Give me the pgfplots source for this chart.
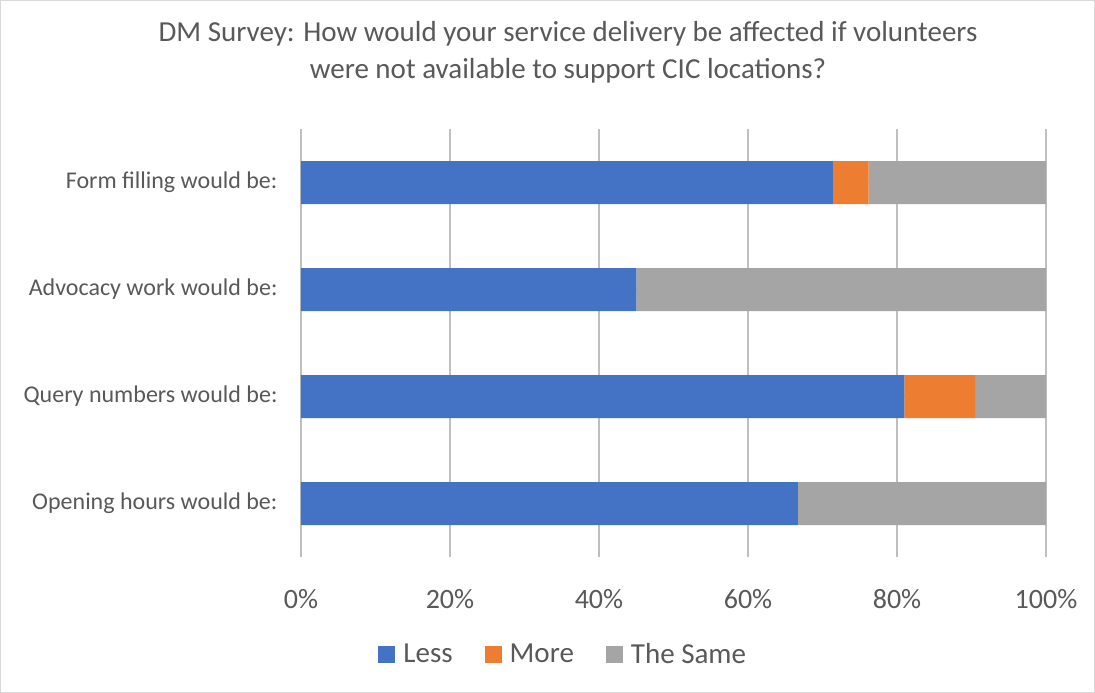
\documentclass[border=0pt]{standalone}
\usepackage{pgfplots}
\pgfplotsset{compat=1.18}
\usepackage{fontspec}
\setmainfont{Carlito}
\definecolor{cLess}{HTML}{4472C4}
\definecolor{cMore}{HTML}{ED7D31}
\definecolor{cSame}{HTML}{A5A5A5}
\definecolor{txt}{HTML}{595959}
\definecolor{grid}{HTML}{D9D9D9}
\begin{document}
\begin{tikzpicture}[x=1pt,y=1pt]
\draw[grid, line width=1pt, fill=white] (0.5,-0.5) rectangle (1094.5,-692.5);
\node[txt, font=\fontsize{29}{37}\selectfont, align=center] at (568,-52) {DM Survey: How would your service delivery be affected if volunteers\\were not available to support CIC locations?};
\begin{axis}[
  at={(301pt,-557pt)}, anchor=south west,
  scale only axis, width=745pt, height=428pt,
  xbar stacked, bar width=43pt,
  xmin=0, xmax=100, ymin=-0.5, ymax=3.5,
  axis line style={draw=none},
  xmajorgrids, grid style={grid, line width=1.2pt},
  xtick={0,20,...,100},
  xticklabel={\pgfmathprintnumber{\tick}\%},
  /pgf/number format/assume math mode=true,
  xticklabel style={font=\fontsize{28}{32}\selectfont, text=txt, yshift=-29pt},
  ytick={0,1,2,3},
  yticklabels={Opening hours would be:, Query numbers would be:, Advocacy work would be:, Form filling would be:},
  yticklabel style={font=\fontsize{24}{28}\selectfont, text=txt, xshift=-20pt},
  major tick length=0pt,
  legend style={at={(0.352,-0.227)}, anchor=center, draw=none, legend columns=3,
    font=\fontsize{29}{32}\selectfont, text=txt,
    /tikz/every even column/.append style={column sep=30pt},
    /tikz/every odd column/.append style={column sep=6pt}},
  legend image code/.code={\fill[#1] (0pt,-8.5pt) rectangle (17pt,8.5pt);},
]
\addplot[fill=cLess, draw=none] coordinates {(66.7,0) (81.0,1) (45.0,2) (71.4,3)};
\addplot[fill=cMore, draw=none] coordinates {(0,0) (9.5,1) (0,2) (4.8,3)};
\addplot[fill=cSame, draw=none] coordinates {(33.3,0) (9.5,1) (55.0,2) (23.8,3)};
\legend{Less, More, The Same}
\end{axis}
\end{tikzpicture}
\end{document}
